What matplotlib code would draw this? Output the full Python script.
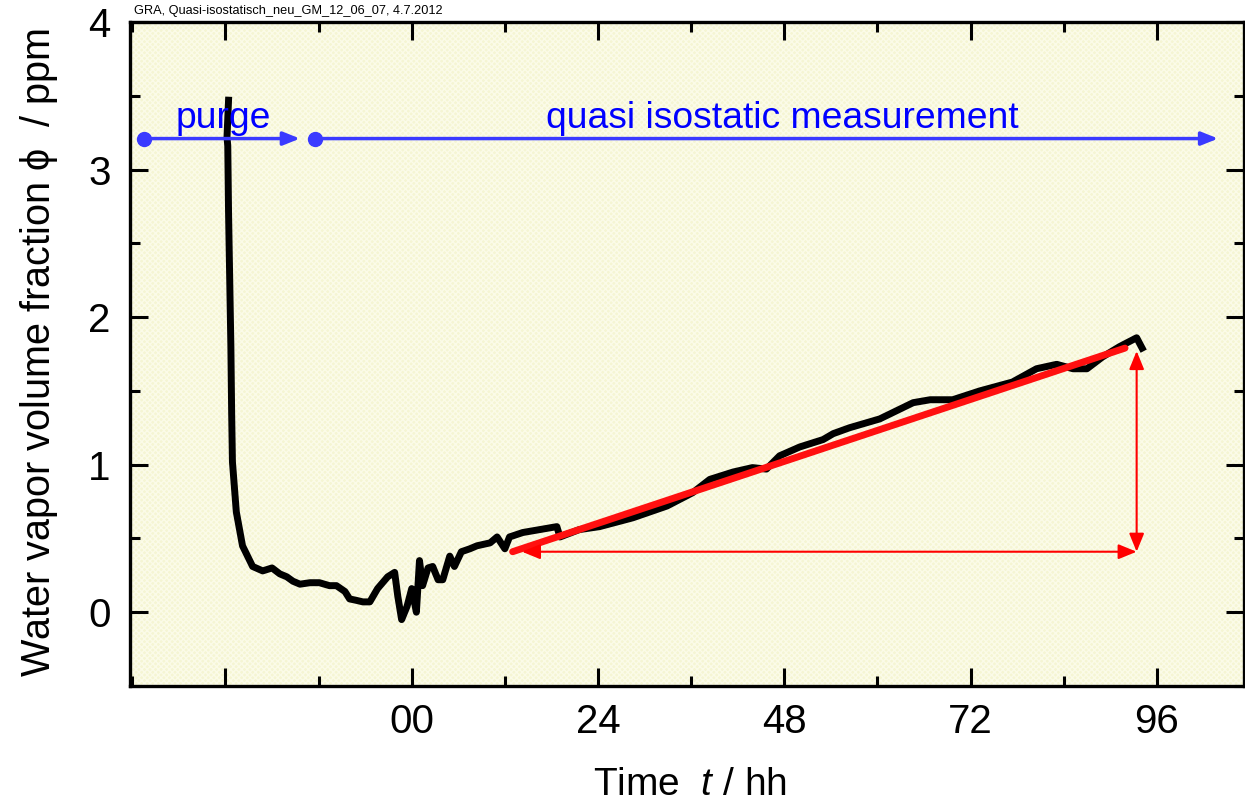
import matplotlib
matplotlib.use("Agg")
import matplotlib.pyplot as plt
from matplotlib.ticker import MultipleLocator, FixedLocator, FixedFormatter
from matplotlib.patches import Rectangle

plt.rcParams['font.family'] = ['Liberation Sans', 'DejaVu Sans']
plt.rcParams['mathtext.fontset'] = 'custom'
plt.rcParams['mathtext.rm'] = 'Liberation Sans'
plt.rcParams['mathtext.it'] = 'Liberation Sans:italic'

t_h = [-23.6, -23.8, -23.7, -23.6, -23.3, -23.2, -23.1, -22.6, -21.8, -20.5,
       -19.2, -18.0, -17.0, -16.1, -15.3, -14.4, -13.1, -11.9, -10.6, -9.7,
       -8.6, -8.0, -7.1, -6.3, -5.4, -4.4, -3.1, -2.2, -1.8, -1.3,
       -0.6, 0.0, 0.6, 1.0, 1.4, 2.1, 2.7, 3.4, 4.0, 4.9,
       5.5, 6.4, 7.5, 8.4, 10.1, 11.0, 12.0, 12.6, 14.3, 16.5,
       18.7, 19.1, 21.6, 24.2, 28.5, 32.9, 36.2, 38.4, 41.4, 43.9,
       45.7, 47.4, 50.0, 53.0, 54.3, 56.4, 60.3, 64.6, 66.8, 69.7,
       73.2, 77.4, 80.5, 83.1, 85.2, 87.0, 89.0, 91.2, 93.4, 94.1]
phi_ppm = [3.47, 3.22, 3.16, 2.71, 1.80, 1.35, 1.02, 0.68, 0.45, 0.31,
           0.28, 0.30, 0.26, 0.24, 0.21, 0.19, 0.20, 0.20, 0.18, 0.18,
           0.14, 0.09, 0.08, 0.07, 0.07, 0.16, 0.24, 0.27, 0.11, -0.05,
           0.04, 0.16, 0.00, 0.35, 0.18, 0.30, 0.31, 0.22, 0.22, 0.38,
           0.31, 0.41, 0.43, 0.45, 0.47, 0.51, 0.43, 0.51, 0.54, 0.56,
           0.58, 0.51, 0.56, 0.58, 0.64, 0.72, 0.81, 0.90, 0.95, 0.98,
           0.97, 1.06, 1.12, 1.17, 1.21, 1.25, 1.31, 1.42, 1.44, 1.44,
           1.50, 1.56, 1.65, 1.68, 1.65, 1.65, 1.73, 1.80, 1.86, 1.79]

# linear fit drawn in red
fit_t = [13.0, 91.9]
fit_phi = [0.41, 1.79]

# delta t / delta phi arrows
dt_arrow = [14.2, 93.4]
dphi_arrow = [0.41, 1.77]

# phase arrows
purge_t = [-34.5, -14.4]
quasi_t = [-12.5, 103.9]
phase_y = 3.21

x_ticks = [-24, 0, 24, 48, 72, 96]
x_labels = ['', '00', '24', '48', '72', '96']
y_ticks = [0, 1, 2, 3, 4]

fig = plt.figure(figsize=(12.45, 8.06), dpi=100)
ax = fig.add_axes([0.1044, 0.1489, 0.8946, 0.8238])
ax.set_facecolor('#F5F5D3')
ax.add_patch(Rectangle((0, 0), 1, 1, transform=ax.transAxes, facecolor='none',
                       edgecolor='#FBFBE8', hatch='xxxxxx', linewidth=0, zorder=0))

ax.plot(t_h, phi_ppm, color='black', lw=5, solid_joinstyle='round', zorder=3)
ax.plot(fit_t, fit_phi, color='#FF1010', lw=5, solid_capstyle='round', zorder=4)

# red arrows
ax.annotate('', xy=(dt_arrow[0], dphi_arrow[0]), xytext=(dt_arrow[1], dphi_arrow[0]),
            arrowprops=dict(arrowstyle='<|-|>,head_length=1.1,head_width=0.45',
                            color='red', lw=1.5, shrinkA=0, shrinkB=0), zorder=5)
ax.annotate('', xy=(dt_arrow[1], dphi_arrow[0]), xytext=(dt_arrow[1], dphi_arrow[1]),
            arrowprops=dict(arrowstyle='<|-|>,head_length=1.1,head_width=0.45',
                            color='red', lw=1.5, shrinkA=0, shrinkB=0), zorder=5)

# blue phase arrows
for seg in (purge_t, quasi_t):
    ax.annotate('', xy=(seg[1], phase_y), xytext=(seg[0], phase_y),
                arrowprops=dict(arrowstyle='-|>,head_length=1.0,head_width=0.4',
                                color='#3a3aff', lw=2.5, shrinkA=0, shrinkB=0), zorder=5)
    ax.plot([seg[0]], [phase_y], 'o', color='#3a3aff', ms=10, zorder=6)

ax.text(-30.4, 3.28, 'purge', color='#0000ff', fontsize=26.8, va='baseline', ha='left', zorder=6)
ax.text(17.3, 3.28, 'quasi isostatic measurement', color='#0000ff', fontsize=26.8,
        va='baseline', ha='left', zorder=6)

ax.set_xlim(-36.3, 107.2)
ax.set_ylim(-0.5, 4.0)
ax.xaxis.set_major_locator(FixedLocator(x_ticks))
ax.xaxis.set_major_formatter(FixedFormatter(x_labels))
ax.xaxis.set_minor_locator(MultipleLocator(12))
ax.yaxis.set_major_locator(FixedLocator(y_ticks))
ax.yaxis.set_minor_locator(MultipleLocator(0.5))

ax.tick_params(which='both', direction='in', top=True, right=True, width=2.2, labelsize=29)
ax.tick_params(which='major', length=13)
ax.tick_params(which='minor', length=7)
ax.tick_params(axis='x', pad=12)
ax.tick_params(axis='y', pad=14)
for s in ax.spines.values():
    s.set_linewidth(2.4)

fig.text(0.554, 0.026, r'Time  $\mathit{t}$ / hh', fontsize=28, ha='center', va='center')
fig.text(0.031, 0.563, r'Water vapor volume fraction $\mathrm{\phi}$  / ppm', fontsize=28.5,
         rotation=90, ha='center', va='center')
fig.text(0.1075, 0.986, 'GRA, Quasi-isostatisch_neu_GM_12_06_07, 4.7.2012',
         fontsize=9.2, family=['Liberation Sans Narrow', 'Liberation Sans'],
         ha='left', va='center')

fig.savefig('out.png', dpi=100)
